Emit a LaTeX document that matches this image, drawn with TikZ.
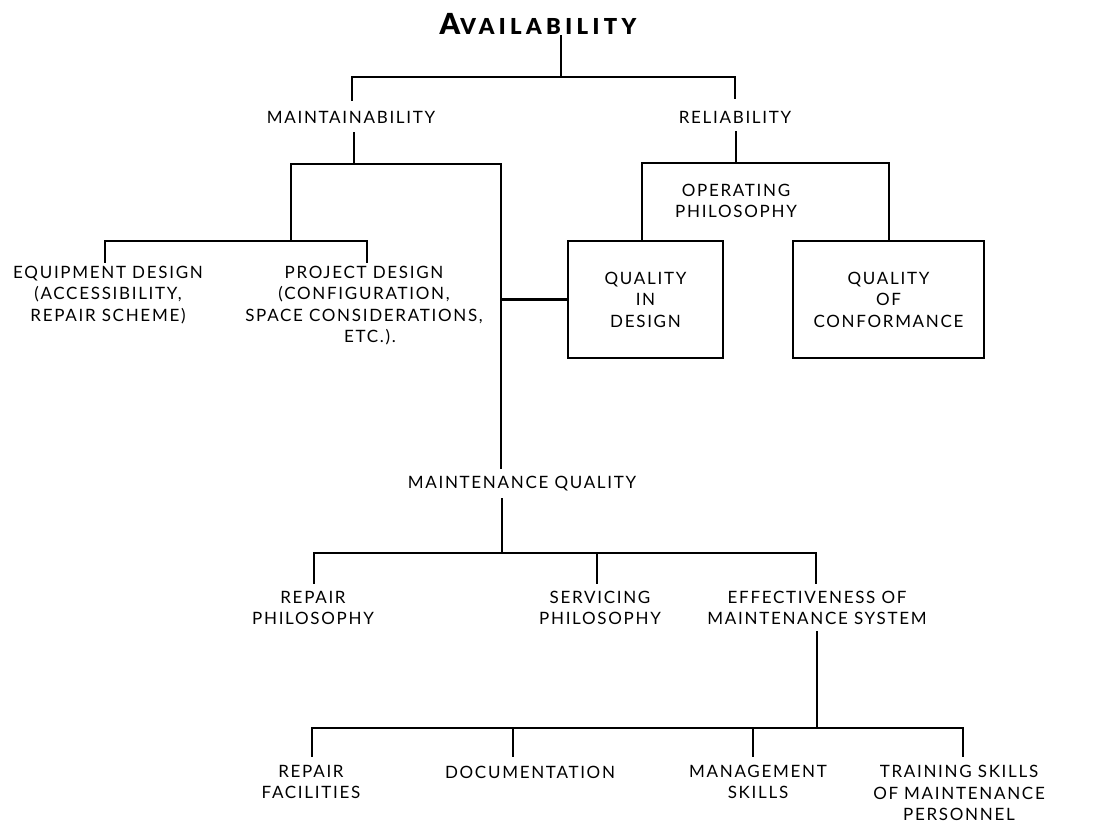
\documentclass[tikz,border=0pt]{standalone}
\usepackage{fontspec}
\setmainfont{Lato}
\newfontfamily\lbl[LetterSpace=10]{Lato}
\newfontfamily\ttl[LetterSpace=20]{Lato Black}
\begin{document}
\begin{tikzpicture}[x=1pt,y=-1pt,
  lab/.style={inner sep=0pt,align=center,font=\lbl\fontsize{17}{21.5}\selectfont},
  wire/.style={line width=2.2pt,line cap=rect},
  qbox/.style={draw,line width=2.2pt,minimum width=155pt,minimum height=117pt,inner sep=0pt,align=center,font=\lbl\fontsize{17}{21.5}\selectfont}]
\useasboundingbox (0,0) rectangle (1109,826);
% texts
\node[inner sep=0pt,font=\ttl] (avail) at (538,24) {{\fontsize{29}{29}\selectfont A}{\fontsize{22}{22}\selectfont VAILABILITY}};
\node[lab] (maint) at (351,117) {MAINTAINABILITY};
\node[lab] (rel) at (735,117) {RELIABILITY};
\node[lab] (equip) at (108,295) {EQUIPMENT DESIGN\\(ACCESSIBILITY,\\REPAIR SCHEME)};
\node[lab] (proj) at (364,305.5) {PROJECT DESIGN\\(CONFIGURATION,\\SPACE CONSIDERATIONS,\\\hspace*{12pt}ETC.).};
\node[lab] (oper) at (736,201) {OPERATING\\PHILOSOPHY};
\node[qbox,minimum width=155pt] (qid) at (645.5,299.5) {QUALITY\\IN\\DESIGN};
\node[qbox,minimum width=191pt] (qoc) at (888.5,299.5) {QUALITY\\OF\\CONFORMANCE};
\node[lab] (mq) at (522,484) {MAINTENANCE QUALITY};
\node[lab] (rphil) at (313,608) {REPAIR\\PHILOSOPHY};
\node[lab] (sphil) at (600,608) {SERVICING\\PHILOSOPHY};
\node[lab] (eff) at (817,608) {EFFECTIVENESS OF\\MAINTENANCE SYSTEM};
\node[lab] (rfac) at (311,782) {REPAIR\\FACILITIES};
\node[lab] (doc) at (530,772) {DOCUMENTATION};
\node[lab] (mgmt) at (758,782) {MANAGEMENT\\SKILLS};
\node[lab] (train) at (959,793) {TRAINING SKILLS\\OF MAINTENANCE\\PERSONNEL};
% connector end points
\coordinate (a1) at (561,36);
\coordinate (a2) at (561,77);
\coordinate (mT) at (352,100);
\coordinate (rT) at (735,98);
\coordinate (mB) at (354,133);
\coordinate (mJ) at (354,164);
\coordinate (eT) at (105,262);
\coordinate (pT) at (367,262);
\coordinate (edJ) at (291,241);
\coordinate (mqT) at (501,468);
\coordinate (rB) at (736,132);
\coordinate (rJ) at (736,163);
\coordinate (mqB) at (502,499);
\coordinate (mqJ) at (502,553);
\coordinate (rpT) at (314,583);
\coordinate (spT) at (597,583);
\coordinate (efT) at (816,583);
\coordinate (efB) at (817,632);
\coordinate (efJ) at (817,728);
\coordinate (rfT) at (312,756);
\coordinate (dcT) at (513,756);
\coordinate (mgT) at (753,756);
\coordinate (trT) at (963,756);
% connectors
\draw[wire] (a1) -- (a2);
\draw[wire] (mT) |- (a2) -| (rT);
\draw[wire] (mB) -- (mJ);
\draw[wire] (edJ) |- (mJ) -| (mqT);
\draw[wire] (eT) |- (edJ) -| (pT);
\draw[wire] (mqT |- qid.west) -- (qid.west);
\draw[wire] (rB) -- (rJ);
\draw[wire] (qid.north -| 642,0) |- (rJ) -| (qoc.north -| 889,0);
\draw[wire] (mqB) -- (mqJ);
\draw[wire] (rpT) |- (mqJ) -| (efT);
\draw[wire] (spT) -- (spT |- mqJ);
\draw[wire] (efB) -- (efJ);
\draw[wire] (rfT) |- (efJ) -| (trT);
\draw[wire] (dcT) -- (dcT |- efJ);
\draw[wire] (mgT) -- (mgT |- efJ);
\end{tikzpicture}
\end{document}
